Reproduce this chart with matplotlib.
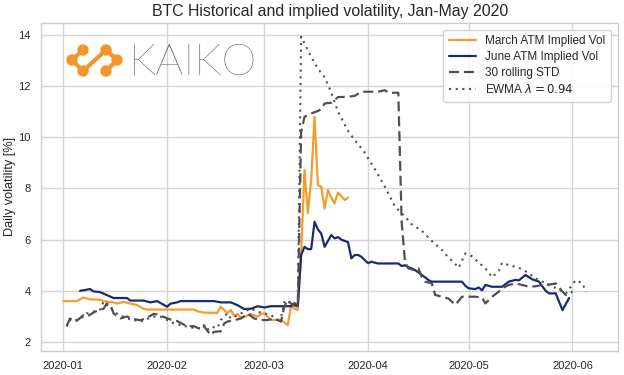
import matplotlib
matplotlib.use("Agg")
import matplotlib.pyplot as plt
import matplotlib.dates as mdates
from matplotlib.lines import Line2D
from matplotlib.patches import Circle
import pandas as pd
import seaborn as sns

# ---------------- data ----------------
march_dates = ["2020-01-01", "2020-01-05", "2020-01-07", "2020-01-09", "2020-01-12", "2020-01-13",
               "2020-01-16", "2020-01-17", "2020-01-19", "2020-01-21", "2020-01-23", "2020-01-25",
               "2020-01-26", "2020-02-09", "2020-02-10", "2020-02-12", "2020-02-16", "2020-02-17",
               "2020-02-18", "2020-02-19", "2020-02-20", "2020-02-21", "2020-02-22", "2020-02-23",
               "2020-02-24", "2020-02-26", "2020-02-28", "2020-02-29", "2020-03-01", "2020-03-02",
               "2020-03-03", "2020-03-06", "2020-03-08", "2020-03-09", "2020-03-10", "2020-03-11",
               "2020-03-12", "2020-03-13", "2020-03-14", "2020-03-15", "2020-03-16", "2020-03-17",
               "2020-03-18", "2020-03-19", "2020-03-20", "2020-03-21", "2020-03-22", "2020-03-23",
               "2020-03-24", "2020-03-25", "2020-03-26"]
march_vol = [3.6, 3.6, 3.74, 3.67, 3.65, 3.6,
             3.55, 3.5, 3.57, 3.5, 3.45, 3.3,
             3.27, 3.27, 3.2, 3.15, 3.14, 3.38,
             3.25, 3.13, 3.25, 3.02, 3.1, 2.94,
             2.97, 3.1, 2.99, 3.1, 3.13, 3.0,
             2.86, 2.86, 2.66, 3.4, 3.3, 3.25,
             5.5, 8.72, 7.03, 8.33, 10.8, 8.13,
             8.07, 7.22, 7.94, 7.63, 7.42, 7.84,
             7.7, 7.55, 7.64]

june_dates = ["2020-01-06", "2020-01-09", "2020-01-10", "2020-01-12", "2020-01-16", "2020-01-20",
              "2020-01-21", "2020-01-25", "2020-01-27", "2020-01-29", "2020-02-01", "2020-02-02",
              "2020-02-04", "2020-02-05", "2020-02-15", "2020-02-17", "2020-02-20", "2020-02-22",
              "2020-02-24", "2020-02-26", "2020-02-28", "2020-03-01", "2020-03-03", "2020-03-09",
              "2020-03-10", "2020-03-11", "2020-03-12", "2020-03-13", "2020-03-14", "2020-03-15",
              "2020-03-16", "2020-03-17", "2020-03-18", "2020-03-19", "2020-03-20", "2020-03-21",
              "2020-03-22", "2020-03-23", "2020-03-24", "2020-03-25", "2020-03-26", "2020-03-27",
              "2020-03-28", "2020-03-29", "2020-03-30", "2020-03-31", "2020-04-01", "2020-04-02",
              "2020-04-03", "2020-04-04", "2020-04-10", "2020-04-11", "2020-04-12", "2020-04-13",
              "2020-04-14", "2020-04-15", "2020-04-16", "2020-04-17", "2020-04-18", "2020-04-19",
              "2020-04-20", "2020-04-29", "2020-04-30", "2020-05-01", "2020-05-03", "2020-05-04",
              "2020-05-05", "2020-05-06", "2020-05-08", "2020-05-11", "2020-05-13", "2020-05-15",
              "2020-05-16", "2020-05-18", "2020-05-20", "2020-05-22", "2020-05-24", "2020-05-25",
              "2020-05-27", "2020-05-29", "2020-05-31"]
june_vol = [4.0, 4.07, 3.98, 3.95, 3.72, 3.72,
            3.62, 3.62, 3.55, 3.6, 3.38, 3.5,
            3.55, 3.6, 3.6, 3.55, 3.55, 3.44,
            3.29, 3.3, 3.4, 3.35, 3.4, 3.4,
            3.52, 3.42, 5.4, 5.72, 5.63, 5.63,
            6.7, 6.4, 6.24, 5.72, 5.95, 6.18,
            6.05, 6.1, 6.0, 5.95, 5.9, 5.27,
            5.4, 5.4, 5.33, 5.2, 5.08, 5.14,
            5.1, 5.07, 5.07, 4.97, 5.0, 4.92,
            4.88, 4.81, 4.72, 4.62, 4.53, 4.42,
            4.36, 4.36, 4.2, 4.1, 4.07, 4.13,
            4.02, 4.23, 4.16, 4.16, 4.36, 4.43,
            4.41, 4.62, 4.45, 4.36, 4.0, 3.9,
            3.9, 3.25, 3.72]

std_dates = ["2020-01-02", "2020-01-03", "2020-01-04", "2020-01-05", "2020-01-07", "2020-01-08",
             "2020-01-10", "2020-01-11", "2020-01-13", "2020-01-14", "2020-01-15", "2020-01-16",
             "2020-01-18", "2020-01-20", "2020-01-22", "2020-01-24", "2020-01-26", "2020-01-28",
             "2020-01-29", "2020-01-31", "2020-02-02", "2020-02-04", "2020-02-05", "2020-02-07",
             "2020-02-09", "2020-02-11", "2020-02-12", "2020-02-14", "2020-02-15", "2020-02-17",
             "2020-02-18", "2020-02-19", "2020-02-21", "2020-02-23", "2020-02-25", "2020-02-27",
             "2020-02-29", "2020-03-02", "2020-03-04", "2020-03-06", "2020-03-07", "2020-03-08",
             "2020-03-09", "2020-03-10", "2020-03-11", "2020-03-12", "2020-03-13", "2020-03-15",
             "2020-03-17", "2020-03-18", "2020-03-19", "2020-03-21", "2020-03-23", "2020-03-26",
             "2020-03-28", "2020-03-30", "2020-04-04", "2020-04-06", "2020-04-07", "2020-04-10",
             "2020-04-11", "2020-04-12", "2020-04-13", "2020-04-15", "2020-04-16", "2020-04-17",
             "2020-04-18", "2020-04-20", "2020-04-21", "2020-04-23", "2020-04-25", "2020-04-27",
             "2020-04-29", "2020-05-03", "2020-05-05", "2020-05-06", "2020-05-08", "2020-05-10",
             "2020-05-11", "2020-05-13", "2020-05-15", "2020-05-17", "2020-05-19", "2020-05-21",
             "2020-05-23", "2020-05-26", "2020-05-27", "2020-05-29", "2020-05-30", "2020-06-01"]
std_vol = [2.63, 2.92, 2.82, 2.83, 3.05, 2.99,
           3.15, 3.22, 3.3, 3.51, 3.47, 3.12,
           2.92, 3.0, 2.9, 2.85, 2.95, 3.1,
           3.08, 2.98, 2.88, 2.82, 2.75, 2.62,
           2.62, 2.5, 2.62, 2.27, 2.4, 2.42,
           2.72, 2.8, 2.85, 2.92, 3.12, 2.92,
           2.86, 2.86, 2.92, 2.8, 3.4, 3.64,
           3.5, 3.42, 3.38, 10.2, 10.8, 10.93,
           11.03, 11.09, 11.32, 11.35, 11.57, 11.58,
           11.62, 11.78, 11.78, 11.84, 11.74, 11.74,
           6.7, 5.14, 4.88, 4.8, 4.88, 4.55,
           4.36, 4.29, 3.84, 3.77, 3.7, 3.45,
           3.77, 3.77, 3.74, 3.51, 3.77, 3.97,
           4.1, 4.23, 4.29, 4.23, 4.16, 4.18,
           4.23, 4.26, 4.29, 3.97, 3.84, 3.97]

ewma_dates = ["2020-01-02", "2020-01-03", "2020-01-04", "2020-01-07", "2020-01-08", "2020-01-10",
              "2020-01-12", "2020-01-13", "2020-01-14", "2020-01-15", "2020-01-16", "2020-01-18",
              "2020-01-20", "2020-01-22", "2020-01-24", "2020-01-26", "2020-01-28", "2020-01-30",
              "2020-02-01", "2020-02-03", "2020-02-05", "2020-02-08", "2020-02-11", "2020-02-12",
              "2020-02-13", "2020-02-14", "2020-02-16", "2020-02-17", "2020-02-19", "2020-02-20",
              "2020-02-22", "2020-02-24", "2020-02-26", "2020-02-28", "2020-03-01", "2020-03-03",
              "2020-03-05", "2020-03-06", "2020-03-07", "2020-03-08", "2020-03-09", "2020-03-10",
              "2020-03-11", "2020-03-12", "2020-03-14", "2020-03-16", "2020-03-18", "2020-03-19",
              "2020-03-21", "2020-03-23", "2020-03-26", "2020-03-28", "2020-03-31", "2020-04-03",
              "2020-04-06", "2020-04-09", "2020-04-12", "2020-04-14", "2020-04-17", "2020-04-20",
              "2020-04-23", "2020-04-25", "2020-04-27", "2020-04-28", "2020-04-30", "2020-05-02",
              "2020-05-04", "2020-05-06", "2020-05-08", "2020-05-10", "2020-05-11", "2020-05-13",
              "2020-05-15", "2020-05-17", "2020-05-19", "2020-05-21", "2020-05-23", "2020-05-25",
              "2020-05-28", "2020-05-30", "2020-06-01", "2020-06-02", "2020-06-04", "2020-06-05"]
ewma_vol = [2.6, 2.86, 2.8, 2.99, 3.12, 3.18,
            3.27, 3.57, 3.45, 3.4, 3.18, 3.05,
            2.92, 2.86, 2.8, 2.9, 2.99, 2.99,
            2.86, 2.73, 2.66, 2.57, 2.53, 2.66,
            2.47, 2.6, 2.55, 2.86, 3.12, 2.92,
            3.05, 3.18, 3.31, 3.18, 3.12, 3.05,
            2.86, 2.95, 3.57, 3.64, 3.45, 3.5,
            3.4, 13.93, 13.4, 12.9, 12.5, 12.35,
            11.75, 11.0, 10.25, 9.89, 9.4, 8.75,
            8.07, 7.3, 6.9, 6.6, 6.35, 5.95,
            5.6, 5.3, 5.05, 4.9, 5.46, 5.35,
            5.1, 4.88, 4.53, 4.78, 5.1, 5.0,
            4.94, 4.85, 4.68, 4.49, 4.36, 4.23,
            4.05, 3.9, 4.25, 4.42, 4.29, 3.95]

# ---------------- style ----------------
sns.set_style("whitegrid")
plt.rcParams["font.family"] = ["Liberation Sans", "DejaVu Sans"]
plt.rcParams["text.color"] = "#262626"

fig = plt.figure(figsize=(6.24, 3.75), dpi=100)
ax = fig.add_axes([0.066, 0.064, 0.925, 0.875])

orange = "#f29d2c"
navy = "#1c2b6e"
gray = "#505050"

ax.plot(pd.to_datetime(march_dates), march_vol, color=orange, lw=1.6, label="March ATM Implied Vol")
ax.plot(pd.to_datetime(june_dates), june_vol, color=navy, lw=1.6, label="June ATM Implied Vol")
ax.plot(pd.to_datetime(std_dates), std_vol, color=gray, lw=1.6, ls=(0, (4.5, 2.2)), label="30 rolling STD")
ax.plot(pd.to_datetime(ewma_dates), ewma_vol, color=gray, lw=1.5, ls=(0, (1, 2.2)), label=r"EWMA $\lambda=0.94$")

ax.set_ylim(1.65, 14.47)
x0 = pd.Timestamp("2020-01-01")
ax.set_xlim(x0 - pd.Timedelta(days=6.6), x0 + pd.Timedelta(days=165.7))
ax.set_yticks([2, 4, 6, 8, 10, 12, 14])
ax.xaxis.set_major_locator(mdates.MonthLocator())
ax.xaxis.set_major_formatter(mdates.DateFormatter("%Y-%m"))
ax.tick_params(axis="both", labelsize=8, colors="#262626", pad=4)
for sp in ax.spines.values():
    sp.set_color("#cccccc")
    sp.set_linewidth(1.0)
ax.grid(True, color="#d4d4d4", lw=1.0)

ax.set_ylabel("Daily volatility [%]", fontsize=9.2, color="#262626")
ax.yaxis.set_label_coords(-0.043, 0.5)
ax.set_title("BTC Historical and implied volatility, Jan-May 2020", fontsize=11.4, color="#262626", pad=5)

leg = ax.legend(loc="upper right", fontsize=8.5, frameon=True, handlelength=2.3,
                borderpad=0.45, labelspacing=0.35, bbox_to_anchor=(0.997, 0.997))
leg.get_frame().set_edgecolor("#cccccc")
leg.get_frame().set_facecolor("white")
leg.get_frame().set_alpha(0.85)

# ---------------- logo ----------------
W, H = 624.0, 375.0
def fx(px):
    return px / W
def fy(py):
    return 1 - py / H

logo_pts = [(83, 50), (72, 60), (83, 71), (106, 50), (117, 60), (106, 71)]
xs = [p[0] / 100 for p in logo_pts]
ys = [(H - p[1]) / 100 for p in logo_pts]
fig.add_artist(Line2D(xs, ys, transform=fig.dpi_scale_trans, color="#f0962d", lw=3.0,
                      solid_capstyle="round", solid_joinstyle="round"))
for (px, py) in logo_pts:
    fig.add_artist(Circle((px / 100, (H - py) / 100), radius=0.05, transform=fig.dpi_scale_trans,
                          color="#f0962d"))

fig.text(fx(129), fy(75), "KAIKO", fontsize=32, color="#3c3c3c",
         family=["Lato", "DejaVu Sans"], fontweight="light", ha="left", va="baseline")

fig.savefig("out.png", dpi=100)
